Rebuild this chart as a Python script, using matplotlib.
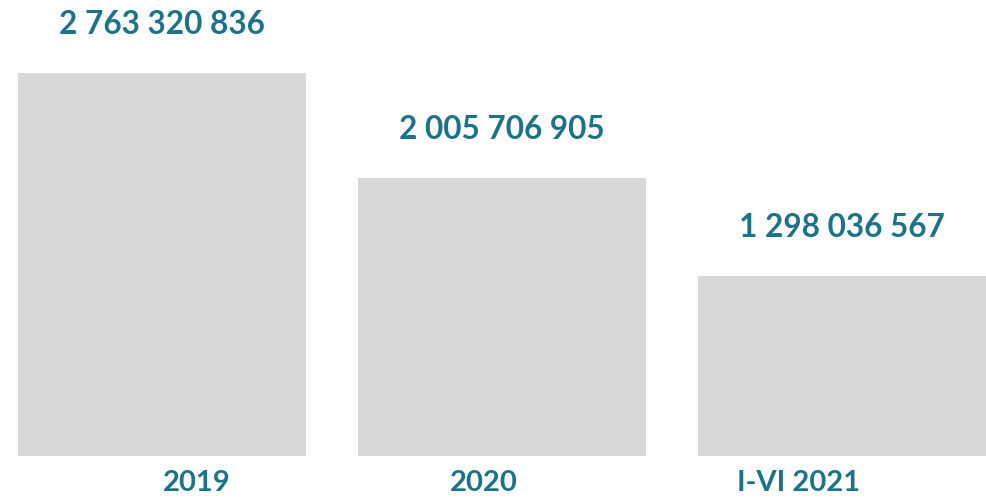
import matplotlib
matplotlib.use("Agg")
import matplotlib.pyplot as plt

categories = ["2019", "2020", "I-VI 2021"]
values = [2763320836, 2005706905, 1298036567]
value_labels = ["2 763 320 836", "2 005 706 905", "1 298 036 567"]
cat_label_shift = [0.103, -0.053, -0.129]

teal = "#1B7289"
bar_color = "#D9D9D9"

fig = plt.figure(figsize=(9.86, 4.98), dpi=100)
W, H = 986, 498
ax = fig.add_axes([18 / W, 42 / H, (986 - 18) / W, 456 / H])
width = 288 / 340
pos = list(range(len(categories)))
ax.bar(pos, values, width=width, color=bar_color)
ax.set_xlim(-width / 2, len(categories) - 1 + width / 2)
ax.set_ylim(0, values[0] * 456 / 383)
ax.axis("off")

for p, v, lab in zip(pos, values, value_labels):
    ax.annotate(lab, (p, v), xytext=(0, 35), textcoords="offset points",
                ha="center", va="center", fontsize=22.7, fontweight="bold",
                color=teal, family=["Lato", "DejaVu Sans"])

for p, c, s in zip(pos, categories, cat_label_shift):
    ax.annotate(c, (p + s, 0), xytext=(0, -19.5), textcoords="offset points",
                ha="center", va="center", fontsize=21, fontweight="bold",
                color=teal, family=["Lato", "DejaVu Sans"], annotation_clip=False)

fig.savefig("out.png", dpi=100)
